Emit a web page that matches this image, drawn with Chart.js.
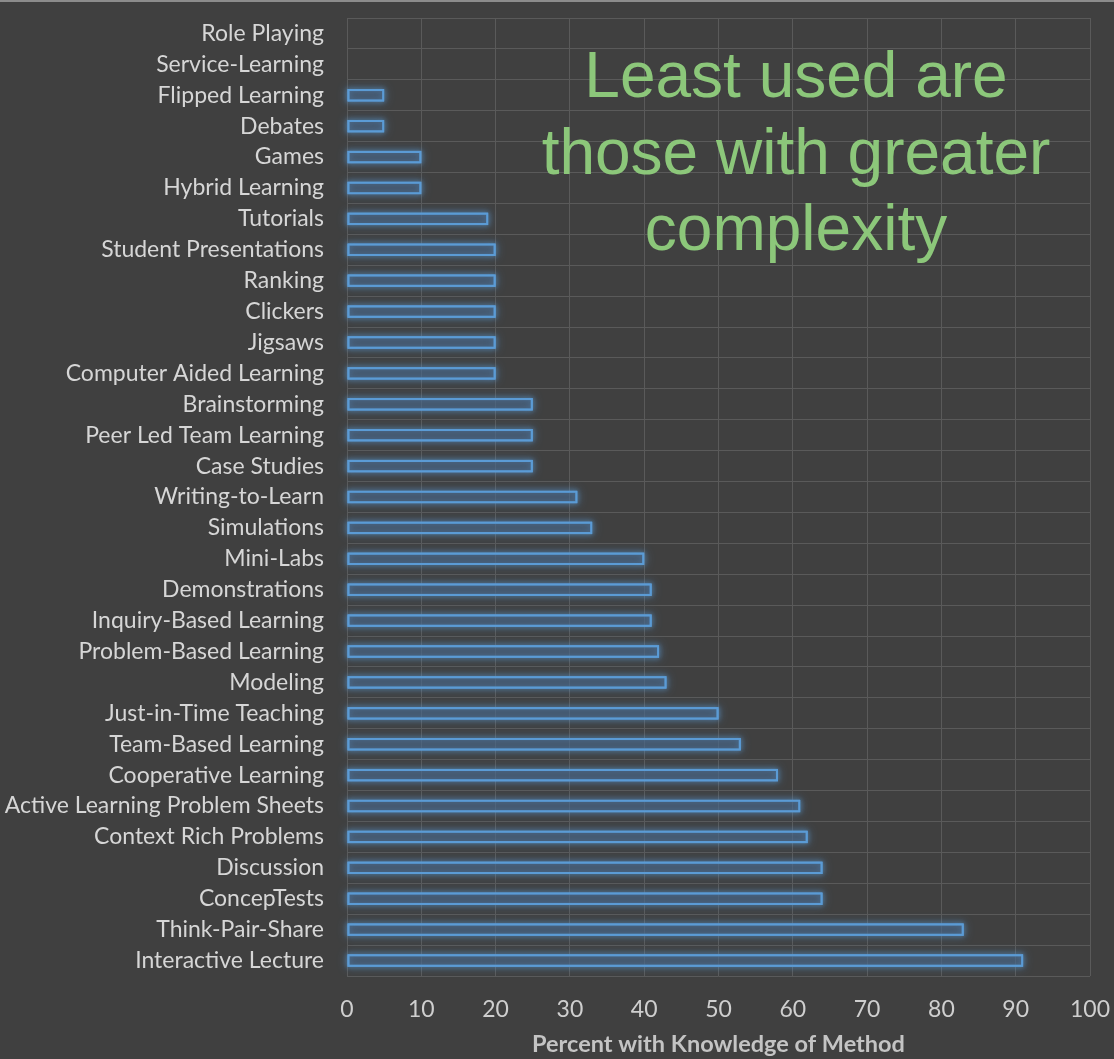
<!DOCTYPE html>
<html>
<head>
<meta charset="utf-8">
<script src="https://cdn.jsdelivr.net/npm/chart.js@4/dist/chart.umd.min.js"></script>
<style>
  html, body { margin: 0; padding: 0; background: #404040; }
  #wrap { position: relative; width: 1114px; height: 1059px; }
  #wrap::before { content: ""; position: absolute; left: 0; top: 0; width: 100%; height: 2px; background: #8c8c8c; }
</style>
</head>
<body>
<div id="wrap"><canvas id="chart" width="1114" height="1059"></canvas></div>
<script>
// Teaching methods, listed top to bottom
const methods = [
  "Role Playing", "Service-Learning", "Flipped Learning", "Debates", "Games",
  "Hybrid Learning", "Tutorials", "Student Presentations", "Ranking", "Clickers",
  "Jigsaws", "Computer Aided Learning", "Brainstorming", "Peer Led Team Learning",
  "Case Studies", "Writing-to-Learn", "Simulations", "Mini-Labs", "Demonstrations",
  "Inquiry-Based Learning", "Problem-Based Learning", "Modeling",
  "Just-in-Time Teaching", "Team-Based Learning", "Cooperative Learning",
  "Active Learning Problem Sheets", "Context Rich Problems", "Discussion",
  "ConcepTests", "Think-Pair-Share", "Interactive Lecture"
];
// Percent of respondents with knowledge of each method
const knowledgePct = [
  0, 0, 5, 5, 10,
  10, 19, 20, 20, 20,
  20, 20, 25, 25,
  25, 31, 33, 40, 41,
  41, 42, 43,
  50, 53, 58,
  61, 62, 64,
  64, 83, 91
];
const xTicks = [0, 10, 20, 30, 40, 50, 60, 70, 80, 90, 100];
const axisTitle = "Percent with Knowledge of Method";
const calloutLines = ["Least used are", "those with greater", "complexity"];

const BAR_BLUE = "#5b9bd5";

// Soft blue glow around each bar outline, traced from the bar elements
const glow = {
  id: "glow",
  beforeDatasetsDraw(chart) {
    const c = chart.ctx;
    const meta = chart.getDatasetMeta(0);
    c.save();
    c.strokeStyle = "rgba(91,155,213,0.9)";
    c.lineWidth = 2;
    c.shadowColor = "rgba(91,155,213,1)";
    meta.data.forEach((bar, i) => {
      if (!knowledgePct[i]) return;
      const p = bar.getProps(["x", "y", "base", "height"], true);
      const left = Math.min(p.x, p.base), w = Math.abs(p.x - p.base);
      [10, 5].forEach(b => {
        c.shadowBlur = b;
        c.strokeRect(left + 1, p.y - p.height / 2 + 1, w - 2, p.height - 2);
      });
    });
    c.restore();
  }
};

// Green callout text in the upper right of the plot
const callout = {
  id: "callout",
  afterDraw(chart) {
    const c = chart.ctx;
    c.save();
    c.fillStyle = "#8cc77a";
    c.font = "64px 'Liberation Sans', Arial, sans-serif";
    c.textAlign = "center";
    c.textBaseline = "alphabetic";
    calloutLines.forEach((t, i) => c.fillText(t, 796, 97 + i * 76.5));
    c.restore();
  }
};

const labelFont = { family: "Lato, 'Open Sans', sans-serif", size: 23 };

new Chart(document.getElementById("chart"), {
  type: "bar",
  data: {
    labels: methods,
    datasets: [{
      data: knowledgePct,
      backgroundColor: "rgba(70,95,125,0.55)",
      borderColor: BAR_BLUE,
      borderWidth: ctx => (ctx.raw ? 2 : 0),
      borderSkipped: false,
      barPercentage: 0.4,
      categoryPercentage: 1
    }]
  },
  options: {
    indexAxis: "y",
    responsive: false,
    animation: false,
    layout: { padding: { top: 18, right: 24, left: 0, bottom: 0 } },
    plugins: { legend: { display: false }, tooltip: { enabled: false } },
    scales: {
      x: {
        min: 0, max: 100,
        afterBuildTicks: s => { s.ticks = xTicks.map(v => ({ value: v })); },
        afterFit: s => { s.height = 83; s.paddingLeft = 0; s.paddingRight = 0; },
        grid: { color: "#5a5a5a", lineWidth: 1, drawTicks: false },
        border: { display: false },
        ticks: { color: "#cfcfcf", font: labelFont, padding: 20 },
        title: {
          display: true, text: axisTitle, color: "#c4c4c4",
          font: { family: "Lato, 'Open Sans', sans-serif", size: 23.5, weight: "bold" },
          padding: { top: 6, bottom: 0 }
        }
      },
      y: {
        afterFit: s => { s.width = 347; s.paddingTop = 0; s.paddingBottom = 0; },
        grid: { color: "#5a5a5a", lineWidth: 1, offset: true, drawTicks: false },
        border: { display: false },
        ticks: { color: "#d6d6d6", font: labelFont, padding: 23, autoSkip: false }
      }
    }
  },
  plugins: [glow, callout]
});
</script>
</body>
</html>
